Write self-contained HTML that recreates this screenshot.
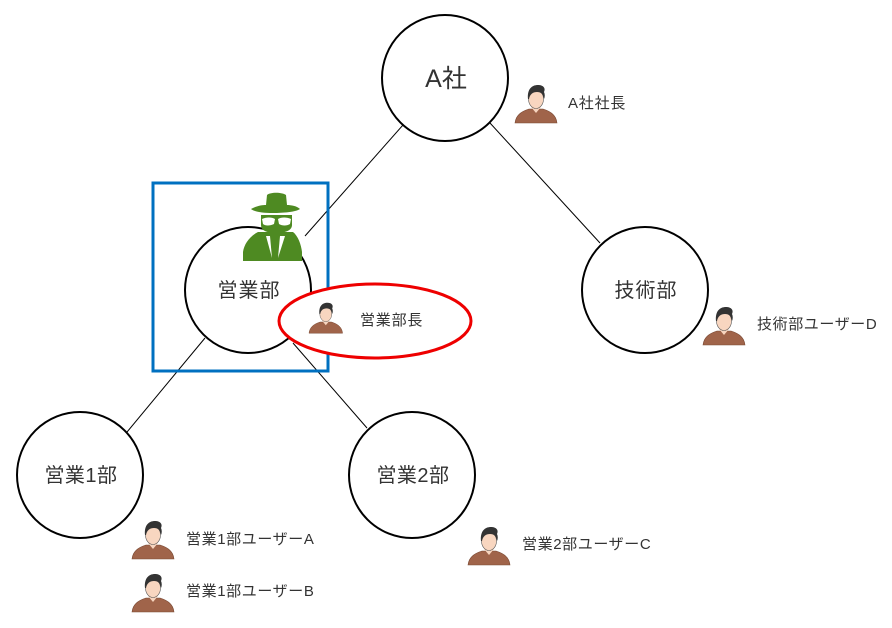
<!DOCTYPE html>
<html><head><meta charset="utf-8"><style>
html,body{margin:0;padding:0;background:#fff;}
svg text{font-family:"Liberation Sans","Noto Sans CJK JP",sans-serif;fill:#333;}
</style></head><body>
<svg width="892" height="623" viewBox="0 0 892 623" xmlns="http://www.w3.org/2000/svg">
<defs>
<g id="p">
  <path d="M0 39 C1 30 8 27 14 25 L28 25 C34 27 41 30 42 39 Z" fill="#a0644a" stroke="#7a4a35" stroke-width="0.6"/>
  <path d="M16 23 L21 29 L26 23 Z" fill="#f7d5bf"/>
  <ellipse cx="21" cy="15" rx="7.5" ry="9.5" fill="#f8d6c0" stroke="#555" stroke-width="0.6"/>
  <path d="M13 15 C12 5 17 1 23 1 C28 1 31 4 29 8 C30 10 30 13 29 15 C28 10 26 8 22 8 C18 8 15 10 14 15 Z" fill="#333"/>
</g>
</defs>
<g stroke="#000" stroke-width="1">
<line x1="403" y1="125" x2="305" y2="236"/>
<line x1="490" y1="123" x2="600" y2="243"/>
<line x1="205" y1="338" x2="127" y2="432"/>
<line x1="293" y1="343" x2="367" y2="428"/>
</g>
<g fill="#fff" stroke="#000" stroke-width="2">
<circle cx="445" cy="78" r="63"/>
<circle cx="248" cy="290" r="63"/>
<circle cx="645" cy="290" r="63"/>
<circle cx="80" cy="475" r="63"/>
<circle cx="412" cy="475" r="63"/>
</g>
<rect x="153" y="183" width="175" height="188" fill="none" stroke="#0070c0" stroke-width="3"/>
<ellipse cx="375" cy="321" rx="96" ry="37" fill="#fff" stroke="#e00" stroke-width="3"/>
<g fill="#4e8a22">
  <path d="M251 209 C256 206 262 205 266 205 L267 195 C270 192 282 192 286 195 L287 205 C291 205 297 206 300 209 C296 212 283 213 273 213 C263 213 255 212 251 209 Z"/>
  <path d="M261 215 L292 215 L292 225 C292 230 286 233 276 233 C266 233 261 230 261 225 Z"/>
  <path d="M258 232 L293 232 C298 236 301 244 302 252 L302 261 L243 261 L243 252 C244 244 250 236 258 232 Z"/>
</g>
<g fill="#fff">
  <path d="M262 219 C266 217 272 217 275 219 L274 224 C270 226 265 226 263 224 Z"/>
  <path d="M278 219 C281 217 287 217 291 219 L290 224 C287 226 282 226 279 224 Z"/>
  <path d="M266 236 L270 236 L272 258 Z"/>
  <path d="M280 236 L285 236 L278 258 Z"/>
</g>
<text x="446" y="87" font-size="25" text-anchor="middle">A社</text>
<text x="249" y="297" font-size="20" text-anchor="middle" letter-spacing="1">営業部</text>
<text x="646" y="297" font-size="20" text-anchor="middle" letter-spacing="1">技術部</text>
<text x="81" y="482" font-size="20" text-anchor="middle" letter-spacing="0.5">営業1部</text>
<text x="413" y="482" font-size="20" text-anchor="middle" letter-spacing="0.5">営業2部</text>
<use href="#p" transform="translate(515,84)"/>
<text x="568" y="108" font-size="15" letter-spacing="0.8">A社社長</text>
<use href="#p" transform="translate(309,302) scale(0.8)"/>
<text x="360" y="325" font-size="15" letter-spacing="0.8">営業部長</text>
<use href="#p" transform="translate(703,306)"/>
<text x="757" y="329" font-size="15" letter-spacing="0.6">技術部ユーザーD</text>
<use href="#p" transform="translate(132,520)"/>
<text x="186" y="544" font-size="15" letter-spacing="0.6">営業1部ユーザーA</text>
<use href="#p" transform="translate(132,573)"/>
<text x="186" y="596" font-size="15" letter-spacing="0.6">営業1部ユーザーB</text>
<use href="#p" transform="translate(468,526)"/>
<text x="522" y="549" font-size="15" letter-spacing="0.6">営業2部ユーザーC</text>
</svg>
</body></html>
